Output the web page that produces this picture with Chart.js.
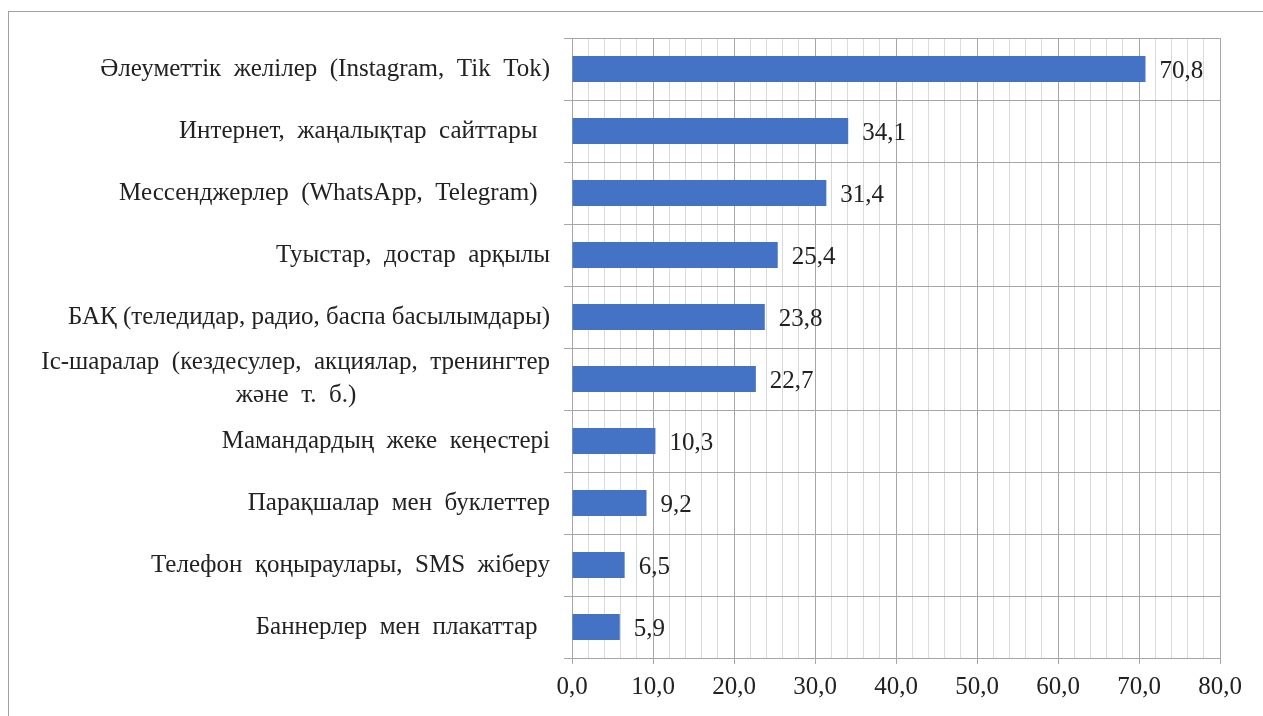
<!DOCTYPE html>
<html>
<head>
<meta charset="utf-8">
<script src="https://cdn.jsdelivr.net/npm/chart.js@4"></script>
<style>
  html, body { margin: 0; padding: 0; background: #fff; }
  #wrap { position: relative; width: 1263px; height: 716px; overflow: hidden; }
  #frame { position: absolute; left: 8px; top: 11px; width: 1270px; height: 720px; border: 1px solid #a0a0a0; }
  canvas { position: absolute; left: 0; top: 0; }
</style>
</head>
<body>
<div id="wrap">
  <div id="frame"></div>
  <canvas id="chart" width="1263" height="716"></canvas>
</div>
<script>
// categories (top to bottom)
const categories = [
  "Әлеуметтік  желілер  (Instagram,  Tik  Tok)",
  "Интернет,  жаңалықтар  сайттары  ",
  "Мессенджерлер  (WhatsApp,  Telegram)  ",
  "Туыстар,  достар  арқылы",
  "БАҚ (теледидар, радио, баспа басылымдары)",
  ["Іс-шаралар  (кездесулер,  акциялар,  тренингтер", "және  т.  б.)" + " ".repeat(31)],
  "Мамандардың  жеке  кеңестері",
  "Парақшалар  мен  буклеттер",
  "Телефон  қоңыраулары,  SMS  жіберу",
  "Баннерлер  мен  плакаттар  "
];
const values = [70.8, 34.1, 31.4, 25.4, 23.8, 22.7, 10.3, 9.2, 6.5, 5.9];
const xMax = 80;
const xStep = 2;
const majorStep = 10;

const fontFamily = "'Liberation Serif', 'Times New Roman', serif";
const fontSize = 25;
const fmt = v => v.toFixed(1).replace('.', ',');

const valueLabels = {
  id: 'valueLabels',
  afterDatasetsDraw(chart) {
    const ctx = chart.ctx;
    const meta = chart.getDatasetMeta(0);
    ctx.save();
    ctx.font = fontSize + "px " + fontFamily;
    ctx.fillStyle = "#222";
    ctx.textAlign = "left";
    ctx.textBaseline = "middle";
    meta.data.forEach((bar, i) => {
      ctx.fillText(fmt(values[i]), bar.x + 14, bar.y + 2);
    });
    ctx.restore();
  }
};

new Chart(document.getElementById('chart'), {
  type: 'bar',
  data: {
    labels: categories,
    datasets: [{
      data: values,
      backgroundColor: '#4472C4',
      barPercentage: 0.42,
      categoryPercentage: 1
    }]
  },
  options: {
    indexAxis: 'y',
    responsive: false,
    animation: false,
    layout: { padding: { left: 0, top: 38, right: 43, bottom: 0 } },
    plugins: { legend: { display: false }, tooltip: { enabled: false } },
    scales: {
      x: {
        min: 0,
        max: xMax,
        afterFit: s => { s.height = 58; },
        border: { color: '#a6a6a6', width: 1 },
        grid: {
          color: c => (c.tick && c.tick.value % majorStep === 0) ? '#a6a6a6' : '#d9d9d9',
          tickColor: c => (c.tick && c.tick.value % majorStep === 0) ? '#a6a6a6' : 'rgba(0,0,0,0)',
          tickLength: 6,
          lineWidth: 1
        },
        ticks: {
          stepSize: xStep,
          autoSkip: false,
          maxRotation: 0,
          padding: 8,
          color: '#222',
          font: { family: fontFamily, size: fontSize },
          callback: v => (v % majorStep === 0 ? fmt(v) : '')
        }
      },
      y: {
        afterFit: s => { s.width = 572; },
        border: { color: '#a6a6a6', width: 1 },
        grid: { color: '#a6a6a6', tickLength: 8, lineWidth: 1 },
        ticks: {
          autoSkip: false,
          padding: 14,
          color: '#222',
          font: { family: fontFamily, size: fontSize, lineHeight: 1.3 }
        }
      }
    }
  },
  plugins: [valueLabels]
});
</script>
</body>
</html>
